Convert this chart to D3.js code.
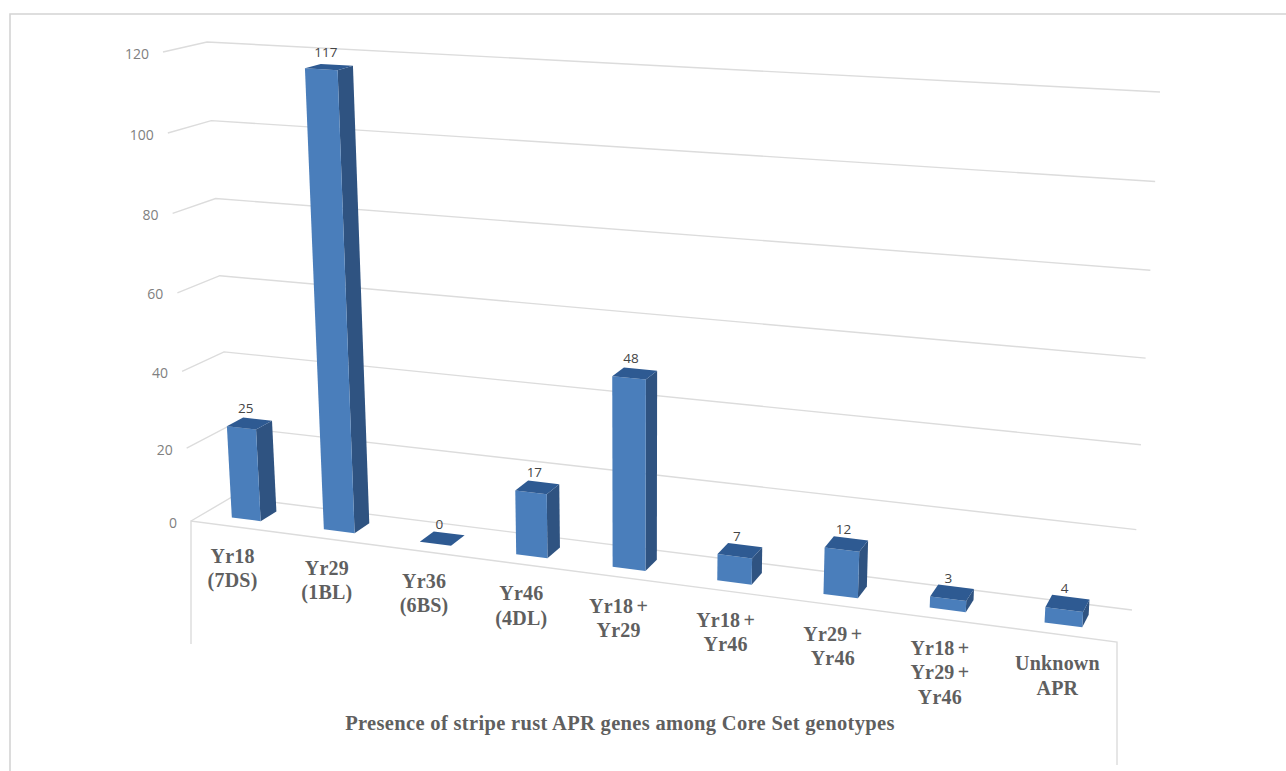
<!DOCTYPE html>
<html>
<head>
<meta charset="utf-8">
<script src="https://cdn.jsdelivr.net/npm/d3@7"></script>
<style>
html,body{margin:0;padding:0;background:#fff;overflow:hidden}
svg{display:block}
</style>
</head>
<body>
<svg id="chart" width="1286" height="771"></svg>
<script>
// Chart data
const categories = [
  ["Yr18", "(7DS)"],
  ["Yr29", "(1BL)"],
  ["Yr36", "(6BS)"],
  ["Yr46", "(4DL)"],
  ["Yr18 +", "Yr29"],
  ["Yr18 +", "Yr46"],
  ["Yr29 +", "Yr46"],
  ["Yr18 +", "Yr29 +", "Yr46"],
  ["Unknown", "APR"]
];
const counts = [25, 117, 0, 17, 48, 7, 12, 3, 4];
const valueTicks = [0, 20, 40, 60, 80, 100, 120];
const axisTitle = "Presence of stripe rust APR genes among Core Set genotypes";

// Palette
const colors = {
  front: "#4a7ebb", side: "#2f5381", top: "#2e5a92",
  grid: "#dcdcdc", frame: "#d4d4d4",
  tick: "#808080", value: "#454545", category: "#5f5f5f"
};

const svg = d3.select("#chart");

// Perspective box: the eight corners of the plot volume on screen.
// f = front, b = back; l = left, r = right; 0 = floor, 1 = ceiling.
const box = {
  fl0: [191, 521], bl0: [232, 497], br0: [1132, 610], fr0: [1117, 642],
  fl1: [163, 52],  bl1: [207, 42],  br1: [1160, 92],  fr1: [1150, 107]
};

// Height along the vertical rails, with a touch of perspective stretch.
const heightScale = d3.scalePow().exponent(1.04).domain([0, 120]).range([0, 1]);
// Position across the floor; categories spread out toward the viewer.
const widthScale = d3.scaleLinear()
  .domain([0, 0.0556, 0.1667, 0.5, 0.8333, 0.9444, 1])
  .range([0, 0.046, 0.1478, 0.4628, 0.8098, 0.9367, 1]);
const band = d3.scaleBand().domain(d3.range(categories.length)).range([0, 1]).paddingInner(0.676).paddingOuter(0.338);

const mix = (a, b, t) => [a[0] + (b[0] - a[0]) * t, a[1] + (b[1] - a[1]) * t];

// Maps (t across the categories, d depth from front to back, v value) to the screen.
function project(t, d, v) {
  const h = heightScale(v), u = widthScale(t);
  const front = mix(mix(box.fl0, box.fr0, u), mix(box.fl1, box.fr1, u), h);
  const back = mix(mix(box.bl0, box.br0, u), mix(box.bl1, box.br1, u), h);
  return mix(front, back, d);
}

const path = d3.line();

// Frame around the chart area
svg.append("path")
  .attr("d", path([[10, 771], [10, 14], [1286, 14]]))
  .attr("fill", "none").attr("stroke", colors.frame).attr("stroke-width", 1.6);

// Gridlines: a short stub on the side wall, then across the back wall
svg.append("g").selectAll("path").data(valueTicks).join("path")
  .attr("d", v => path([project(0, 0, v), project(0, 1, v), project(1, 1, v)]))
  .attr("fill", "none").attr("stroke", colors.grid).attr("stroke-width", 1.4);

// Front edge of the floor with its two drop lines
const dropLine = 123;
const floorLeft = project(0, 0, 0), floorRight = project(1, 0, 0);
svg.append("path")
  .attr("d", path([
    [floorLeft[0], floorLeft[1] + dropLine], floorLeft,
    floorRight, [floorRight[0], floorRight[1] + dropLine]
  ]))
  .attr("fill", "none").attr("stroke", colors.grid).attr("stroke-width", 1.4);

// Value axis labels
svg.append("g").selectAll("text").data(valueTicks).join("text")
  .attr("x", v => project(0, 0, v)[0] - 14)
  .attr("y", v => project(0, 0, v)[1] + 6.5)
  .attr("text-anchor", "end")
  .attr("font-family", "'Open Sans', sans-serif")
  .attr("font-size", 14)
  .attr("fill", colors.tick)
  .text(v => v);

// Bars: front, side and top faces of each box
const depthNear = 0.3, depthFar = 0.7;
const bars = svg.append("g").selectAll("g").data(counts).join("g");
const faceOf = (i, v) => {
  const t0 = band(i), t1 = t0 + band.bandwidth();
  const p = (t, d, h) => project(t, d, h);
  return {
    front: [p(t0, depthNear, 0), p(t1, depthNear, 0), p(t1, depthNear, v), p(t0, depthNear, v)],
    side: [p(t1, depthNear, 0), p(t1, depthFar, 0), p(t1, depthFar, v), p(t1, depthNear, v)],
    top: [p(t0, depthNear, v), p(t1, depthNear, v), p(t1, depthFar, v), p(t0, depthFar, v)]
  };
};
["side", "front", "top"].forEach(face => {
  bars.append("path")
    .attr("d", (v, i) => path(faceOf(i, v)[face]) + "Z")
    .attr("fill", colors[face]);
});

// Data labels over each bar
svg.append("g").selectAll("text").data(counts).join("text")
  .attr("x", (v, i) => project(band(i) + band.bandwidth() / 2, 0.5, v)[0] - 3)
  .attr("y", (v, i) => project(band(i) + band.bandwidth() / 2, 0.5, v)[1] - 10)
  .attr("text-anchor", "middle")
  .attr("font-family", "'Open Sans', sans-serif")
  .attr("font-size", 13.5)
  .attr("fill", colors.value)
  .text(v => v);

// Category labels follow the front edge of the floor
const lineHeight = 24.5;
const categoryLabels = svg.append("g").selectAll("text").data(categories).join("text")
  .attr("text-anchor", "middle")
  .attr("font-family", "'Liberation Serif', serif")
  .attr("font-weight", "bold")
  .attr("font-size", 20)
  .attr("letter-spacing", 0.2)
  .attr("word-spacing", -2)
  .attr("fill", colors.category);
categoryLabels.each(function (lines, i) {
  const anchor = project(band(i) + band.bandwidth() / 2, 0, 0);
  d3.select(this).selectAll("tspan").data(lines).join("tspan")
    .attr("x", anchor[0] - 1)
    .attr("y", (d, k) => anchor[1] + 36 + k * lineHeight)
    .text(d => d);
});

// Category axis title
svg.append("text")
  .attr("x", 620).attr("y", 730)
  .attr("text-anchor", "middle")
  .attr("font-family", "'Liberation Serif', serif")
  .attr("font-weight", "bold")
  .attr("font-size", 20.5)
  .attr("letter-spacing", 0.33)
  .attr("fill", colors.category)
  .text(axisTitle);
</script>
</body>
</html>
